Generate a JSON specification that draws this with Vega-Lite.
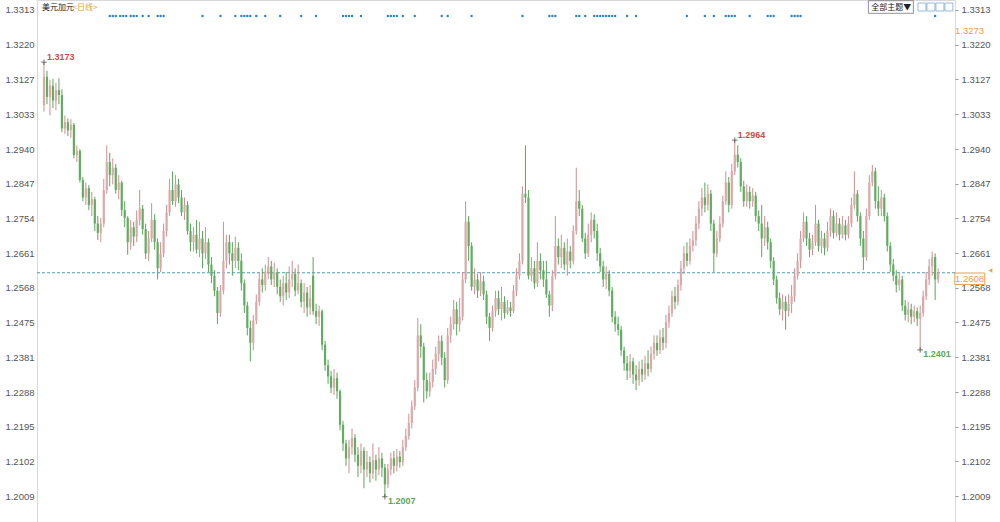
{
  "$schema": "https://vega.github.io/schema/vega-lite/v6.json",
  "width": 918,
  "height": 522,
  "autosize": {"type": "none"},
  "padding": {"left": 37, "right": 45, "top": 0, "bottom": 0},
  "background": "white",
  "config": {"view": {"stroke": "#d8d8d8"}, "font": "Liberation Sans"},
  "data": {"values": [{"one": 1}]},
  "datasets": {
    "k": [
      {"i":0,"o":1.3058,"h":1.3173,"l":1.3040,"c":1.3134},
      {"i":1,"o":1.3134,"h":1.3150,"l":1.3060,"c":1.3080},
      {"i":2,"o":1.3080,"h":1.3125,"l":1.3030,"c":1.3110},
      {"i":3,"o":1.3110,"h":1.3128,"l":1.3050,"c":1.3070},
      {"i":4,"o":1.3070,"h":1.3118,"l":1.3044,"c":1.3098},
      {"i":5,"o":1.3098,"h":1.3130,"l":1.3060,"c":1.3085},
      {"i":6,"o":1.3085,"h":1.3100,"l":1.2985,"c":1.2995},
      {"i":7,"o":1.2995,"h":1.3030,"l":1.2980,"c":1.3012},
      {"i":8,"o":1.3012,"h":1.3022,"l":1.2975,"c":1.2990},
      {"i":9,"o":1.2990,"h":1.3020,"l":1.2970,"c":1.3005},
      {"i":10,"o":1.3005,"h":1.3010,"l":1.2915,"c":1.2924},
      {"i":11,"o":1.2924,"h":1.2950,"l":1.2905,"c":1.2935},
      {"i":12,"o":1.2935,"h":1.2940,"l":1.2850,"c":1.2857},
      {"i":13,"o":1.2857,"h":1.2865,"l":1.2800,"c":1.2810},
      {"i":14,"o":1.2810,"h":1.2850,"l":1.2790,"c":1.2835},
      {"i":15,"o":1.2835,"h":1.2843,"l":1.2776,"c":1.2790},
      {"i":16,"o":1.2790,"h":1.2825,"l":1.2760,"c":1.2805},
      {"i":17,"o":1.2805,"h":1.2812,"l":1.2720,"c":1.2740},
      {"i":18,"o":1.2740,"h":1.2760,"l":1.2696,"c":1.2715},
      {"i":19,"o":1.2715,"h":1.2755,"l":1.2690,"c":1.2740},
      {"i":20,"o":1.2740,"h":1.2860,"l":1.2730,"c":1.2830},
      {"i":21,"o":1.2830,"h":1.2950,"l":1.2820,"c":1.2905},
      {"i":22,"o":1.2905,"h":1.2930,"l":1.2840,"c":1.2870},
      {"i":23,"o":1.2870,"h":1.2915,"l":1.2845,"c":1.2890},
      {"i":24,"o":1.2890,"h":1.2900,"l":1.2820,"c":1.2830},
      {"i":25,"o":1.2830,"h":1.2870,"l":1.2805,"c":1.2850},
      {"i":26,"o":1.2850,"h":1.2855,"l":1.2760,"c":1.2776},
      {"i":27,"o":1.2776,"h":1.2800,"l":1.2730,"c":1.2755},
      {"i":28,"o":1.2755,"h":1.2760,"l":1.2656,"c":1.2690},
      {"i":29,"o":1.2690,"h":1.2750,"l":1.2670,"c":1.2730},
      {"i":30,"o":1.2730,"h":1.2745,"l":1.2680,"c":1.2705},
      {"i":31,"o":1.2705,"h":1.2775,"l":1.2690,"c":1.2750},
      {"i":32,"o":1.2750,"h":1.2830,"l":1.2735,"c":1.2780},
      {"i":33,"o":1.2780,"h":1.2790,"l":1.2710,"c":1.2725},
      {"i":34,"o":1.2725,"h":1.2740,"l":1.2645,"c":1.2660},
      {"i":35,"o":1.2660,"h":1.2720,"l":1.2640,"c":1.2700},
      {"i":36,"o":1.2700,"h":1.2795,"l":1.2690,"c":1.2750},
      {"i":37,"o":1.2750,"h":1.2765,"l":1.2670,"c":1.2690},
      {"i":38,"o":1.2690,"h":1.2700,"l":1.2590,"c":1.2620},
      {"i":39,"o":1.2620,"h":1.2690,"l":1.2610,"c":1.2660},
      {"i":40,"o":1.2660,"h":1.2740,"l":1.2650,"c":1.2720},
      {"i":41,"o":1.2720,"h":1.2790,"l":1.2705,"c":1.2770},
      {"i":42,"o":1.2770,"h":1.2860,"l":1.2760,"c":1.2830},
      {"i":43,"o":1.2830,"h":1.2880,"l":1.2790,"c":1.2800},
      {"i":44,"o":1.2800,"h":1.2870,"l":1.2785,"c":1.2845},
      {"i":45,"o":1.2845,"h":1.2860,"l":1.2795,"c":1.2810},
      {"i":46,"o":1.2810,"h":1.2830,"l":1.2760,"c":1.2770},
      {"i":47,"o":1.2770,"h":1.2810,"l":1.2750,"c":1.2790},
      {"i":48,"o":1.2790,"h":1.2800,"l":1.2710,"c":1.2720},
      {"i":49,"o":1.2720,"h":1.2740,"l":1.2665,"c":1.2690},
      {"i":50,"o":1.2690,"h":1.2730,"l":1.2665,"c":1.2710},
      {"i":51,"o":1.2710,"h":1.2750,"l":1.2660,"c":1.2670},
      {"i":52,"o":1.2670,"h":1.2745,"l":1.2650,"c":1.2700},
      {"i":53,"o":1.2700,"h":1.2720,"l":1.2620,"c":1.2660},
      {"i":54,"o":1.2660,"h":1.2730,"l":1.2645,"c":1.2690},
      {"i":55,"o":1.2690,"h":1.2700,"l":1.2610,"c":1.2630},
      {"i":56,"o":1.2630,"h":1.2650,"l":1.2580,"c":1.2600},
      {"i":57,"o":1.2600,"h":1.2615,"l":1.2545,"c":1.2560},
      {"i":58,"o":1.2560,"h":1.2570,"l":1.2470,"c":1.2500},
      {"i":59,"o":1.2500,"h":1.2575,"l":1.2490,"c":1.2560},
      {"i":60,"o":1.2560,"h":1.2745,"l":1.2550,"c":1.2640},
      {"i":61,"o":1.2640,"h":1.2710,"l":1.2620,"c":1.2690},
      {"i":62,"o":1.2690,"h":1.2710,"l":1.2630,"c":1.2660},
      {"i":63,"o":1.2660,"h":1.2690,"l":1.2600,"c":1.2640},
      {"i":64,"o":1.2640,"h":1.2705,"l":1.2620,"c":1.2675},
      {"i":65,"o":1.2675,"h":1.2690,"l":1.2615,"c":1.2640},
      {"i":66,"o":1.2640,"h":1.2660,"l":1.2560,"c":1.2580},
      {"i":67,"o":1.2580,"h":1.2590,"l":1.2500,"c":1.2520},
      {"i":68,"o":1.2520,"h":1.2530,"l":1.2440,"c":1.2460},
      {"i":69,"o":1.2460,"h":1.2480,"l":1.2370,"c":1.2420},
      {"i":70,"o":1.2420,"h":1.2495,"l":1.2400,"c":1.2480},
      {"i":71,"o":1.2480,"h":1.2550,"l":1.2470,"c":1.2530},
      {"i":72,"o":1.2530,"h":1.2610,"l":1.2520,"c":1.2590},
      {"i":73,"o":1.2590,"h":1.2620,"l":1.2555,"c":1.2575},
      {"i":74,"o":1.2575,"h":1.2630,"l":1.2560,"c":1.2610},
      {"i":75,"o":1.2610,"h":1.2650,"l":1.2590,"c":1.2625},
      {"i":76,"o":1.2625,"h":1.2640,"l":1.2575,"c":1.2590},
      {"i":77,"o":1.2590,"h":1.2635,"l":1.2570,"c":1.2610},
      {"i":78,"o":1.2610,"h":1.2620,"l":1.2550,"c":1.2570},
      {"i":79,"o":1.2570,"h":1.2590,"l":1.2530,"c":1.2545},
      {"i":80,"o":1.2545,"h":1.2600,"l":1.2520,"c":1.2580},
      {"i":81,"o":1.2580,"h":1.2610,"l":1.2535,"c":1.2555},
      {"i":82,"o":1.2555,"h":1.2625,"l":1.2540,"c":1.2590},
      {"i":83,"o":1.2590,"h":1.2640,"l":1.2570,"c":1.2605},
      {"i":84,"o":1.2605,"h":1.2620,"l":1.2545,"c":1.2560},
      {"i":85,"o":1.2560,"h":1.2630,"l":1.2550,"c":1.2580},
      {"i":86,"o":1.2580,"h":1.2590,"l":1.2515,"c":1.2530},
      {"i":87,"o":1.2530,"h":1.2580,"l":1.2500,"c":1.2555},
      {"i":88,"o":1.2555,"h":1.2570,"l":1.2490,"c":1.2515},
      {"i":89,"o":1.2515,"h":1.2575,"l":1.2495,"c":1.2540},
      {"i":90,"o":1.2600,"h":1.2650,"l":1.2495,"c":1.2505},
      {"i":91,"o":1.2505,"h":1.2525,"l":1.2470,"c":1.2490},
      {"i":92,"o":1.2490,"h":1.2520,"l":1.2465,"c":1.2505},
      {"i":93,"o":1.2505,"h":1.2510,"l":1.2400,"c":1.2415},
      {"i":94,"o":1.2415,"h":1.2425,"l":1.2345,"c":1.2360},
      {"i":95,"o":1.2360,"h":1.2375,"l":1.2310,"c":1.2330},
      {"i":96,"o":1.2330,"h":1.2345,"l":1.2285,"c":1.2300},
      {"i":97,"o":1.2300,"h":1.2350,"l":1.2280,"c":1.2325},
      {"i":98,"o":1.2325,"h":1.2340,"l":1.2270,"c":1.2290},
      {"i":99,"o":1.2290,"h":1.2295,"l":1.2185,"c":1.2200},
      {"i":100,"o":1.2200,"h":1.2210,"l":1.2130,"c":1.2150},
      {"i":101,"o":1.2150,"h":1.2160,"l":1.2090,"c":1.2110},
      {"i":102,"o":1.2110,"h":1.2160,"l":1.2070,"c":1.2140},
      {"i":103,"o":1.2140,"h":1.2190,"l":1.2120,"c":1.2165},
      {"i":104,"o":1.2165,"h":1.2175,"l":1.2100,"c":1.2120},
      {"i":105,"o":1.2120,"h":1.2140,"l":1.2060,"c":1.2090},
      {"i":106,"o":1.2090,"h":1.2150,"l":1.2070,"c":1.2130},
      {"i":107,"o":1.2130,"h":1.2140,"l":1.2030,"c":1.2080},
      {"i":108,"o":1.2080,"h":1.2130,"l":1.2060,"c":1.2100},
      {"i":109,"o":1.2100,"h":1.2115,"l":1.2045,"c":1.2070},
      {"i":110,"o":1.2070,"h":1.2150,"l":1.2055,"c":1.2105},
      {"i":111,"o":1.2105,"h":1.2120,"l":1.2050,"c":1.2080},
      {"i":112,"o":1.2080,"h":1.2140,"l":1.2065,"c":1.2110},
      {"i":113,"o":1.2110,"h":1.2125,"l":1.2060,"c":1.2085},
      {"i":114,"o":1.2085,"h":1.2095,"l":1.2007,"c":1.2040},
      {"i":115,"o":1.2040,"h":1.2095,"l":1.2030,"c":1.2080},
      {"i":116,"o":1.2080,"h":1.2125,"l":1.2065,"c":1.2110},
      {"i":117,"o":1.2110,"h":1.2130,"l":1.2070,"c":1.2090},
      {"i":118,"o":1.2090,"h":1.2135,"l":1.2075,"c":1.2115},
      {"i":119,"o":1.2115,"h":1.2130,"l":1.2085,"c":1.2100},
      {"i":120,"o":1.2100,"h":1.2160,"l":1.2090,"c":1.2140},
      {"i":121,"o":1.2140,"h":1.2190,"l":1.2130,"c":1.2170},
      {"i":122,"o":1.2170,"h":1.2230,"l":1.2160,"c":1.2205},
      {"i":123,"o":1.2205,"h":1.2265,"l":1.2190,"c":1.2250},
      {"i":124,"o":1.2250,"h":1.2320,"l":1.2240,"c":1.2300},
      {"i":125,"o":1.2300,"h":1.2487,"l":1.2290,"c":1.2440},
      {"i":126,"o":1.2440,"h":1.2470,"l":1.2380,"c":1.2410},
      {"i":127,"o":1.2410,"h":1.2420,"l":1.2260,"c":1.2320},
      {"i":128,"o":1.2320,"h":1.2340,"l":1.2270,"c":1.2290},
      {"i":129,"o":1.2290,"h":1.2340,"l":1.2275,"c":1.2315},
      {"i":130,"o":1.2315,"h":1.2375,"l":1.2300,"c":1.2350},
      {"i":131,"o":1.2350,"h":1.2410,"l":1.2335,"c":1.2390},
      {"i":132,"o":1.2390,"h":1.2440,"l":1.2370,"c":1.2425},
      {"i":133,"o":1.2425,"h":1.2440,"l":1.2360,"c":1.2380},
      {"i":134,"o":1.2380,"h":1.2395,"l":1.2300,"c":1.2320},
      {"i":135,"o":1.2320,"h":1.2460,"l":1.2310,"c":1.2440},
      {"i":136,"o":1.2440,"h":1.2490,"l":1.2420,"c":1.2470},
      {"i":137,"o":1.2470,"h":1.2535,"l":1.2455,"c":1.2510},
      {"i":138,"o":1.2510,"h":1.2530,"l":1.2440,"c":1.2470},
      {"i":139,"o":1.2470,"h":1.2540,"l":1.2450,"c":1.2490},
      {"i":140,"o":1.2490,"h":1.2610,"l":1.2480,"c":1.2590},
      {"i":141,"o":1.2590,"h":1.2800,"l":1.2580,"c":1.2745},
      {"i":142,"o":1.2745,"h":1.2760,"l":1.2640,"c":1.2680},
      {"i":143,"o":1.2680,"h":1.2690,"l":1.2560,"c":1.2570},
      {"i":144,"o":1.2570,"h":1.2620,"l":1.2550,"c":1.2590},
      {"i":145,"o":1.2590,"h":1.2605,"l":1.2540,"c":1.2560},
      {"i":146,"o":1.2560,"h":1.2610,"l":1.2545,"c":1.2585},
      {"i":147,"o":1.2585,"h":1.2600,"l":1.2535,"c":1.2550},
      {"i":148,"o":1.2550,"h":1.2560,"l":1.2470,"c":1.2490},
      {"i":149,"o":1.2490,"h":1.2500,"l":1.2425,"c":1.2460},
      {"i":150,"o":1.2460,"h":1.2520,"l":1.2450,"c":1.2505},
      {"i":151,"o":1.2505,"h":1.2560,"l":1.2490,"c":1.2540},
      {"i":152,"o":1.2540,"h":1.2560,"l":1.2495,"c":1.2510},
      {"i":153,"o":1.2510,"h":1.2570,"l":1.2480,"c":1.2530},
      {"i":154,"o":1.2530,"h":1.2545,"l":1.2485,"c":1.2500},
      {"i":155,"o":1.2500,"h":1.2535,"l":1.2495,"c":1.2515},
      {"i":156,"o":1.2515,"h":1.2530,"l":1.2490,"c":1.2505},
      {"i":157,"o":1.2505,"h":1.2575,"l":1.2500,"c":1.2560},
      {"i":158,"o":1.2560,"h":1.2620,"l":1.2545,"c":1.2600},
      {"i":159,"o":1.2600,"h":1.2660,"l":1.2590,"c":1.2640},
      {"i":160,"o":1.2640,"h":1.2840,"l":1.2630,"c":1.2820},
      {"i":161,"o":1.2820,"h":1.2950,"l":1.2795,"c":1.2810},
      {"i":162,"o":1.2810,"h":1.2830,"l":1.2590,"c":1.2600},
      {"i":163,"o":1.2600,"h":1.2650,"l":1.2585,"c":1.2620},
      {"i":164,"o":1.2620,"h":1.2640,"l":1.2565,"c":1.2580},
      {"i":165,"o":1.2580,"h":1.2690,"l":1.2570,"c":1.2640},
      {"i":166,"o":1.2640,"h":1.2660,"l":1.2590,"c":1.2615},
      {"i":167,"o":1.2615,"h":1.2640,"l":1.2570,"c":1.2590},
      {"i":168,"o":1.2590,"h":1.2640,"l":1.2540,"c":1.2550},
      {"i":169,"o":1.2550,"h":1.2560,"l":1.2490,"c":1.2520},
      {"i":170,"o":1.2520,"h":1.2615,"l":1.2505,"c":1.2600},
      {"i":171,"o":1.2600,"h":1.2760,"l":1.2590,"c":1.2680},
      {"i":172,"o":1.2680,"h":1.2700,"l":1.2630,"c":1.2650},
      {"i":173,"o":1.2650,"h":1.2710,"l":1.2620,"c":1.2675},
      {"i":174,"o":1.2675,"h":1.2690,"l":1.2615,"c":1.2630},
      {"i":175,"o":1.2630,"h":1.2700,"l":1.2600,"c":1.2665},
      {"i":176,"o":1.2665,"h":1.2680,"l":1.2620,"c":1.2640},
      {"i":177,"o":1.2640,"h":1.2735,"l":1.2630,"c":1.2720},
      {"i":178,"o":1.2720,"h":1.2890,"l":1.2710,"c":1.2800},
      {"i":179,"o":1.2800,"h":1.2830,"l":1.2760,"c":1.2780},
      {"i":180,"o":1.2780,"h":1.2790,"l":1.2690,"c":1.2700},
      {"i":181,"o":1.2700,"h":1.2715,"l":1.2645,"c":1.2660},
      {"i":182,"o":1.2660,"h":1.2740,"l":1.2650,"c":1.2710},
      {"i":183,"o":1.2710,"h":1.2770,"l":1.2690,"c":1.2750},
      {"i":184,"o":1.2750,"h":1.2765,"l":1.2700,"c":1.2720},
      {"i":185,"o":1.2720,"h":1.2740,"l":1.2640,"c":1.2660},
      {"i":186,"o":1.2660,"h":1.2675,"l":1.2610,"c":1.2625},
      {"i":187,"o":1.2625,"h":1.2640,"l":1.2570,"c":1.2590},
      {"i":188,"o":1.2590,"h":1.2625,"l":1.2565,"c":1.2605},
      {"i":189,"o":1.2605,"h":1.2615,"l":1.2545,"c":1.2560},
      {"i":190,"o":1.2560,"h":1.2570,"l":1.2475,"c":1.2490},
      {"i":191,"o":1.2490,"h":1.2505,"l":1.2450,"c":1.2470},
      {"i":192,"o":1.2470,"h":1.2490,"l":1.2440,"c":1.2455},
      {"i":193,"o":1.2455,"h":1.2465,"l":1.2385,"c":1.2400},
      {"i":194,"o":1.2400,"h":1.2410,"l":1.2345,"c":1.2365},
      {"i":195,"o":1.2365,"h":1.2385,"l":1.2320,"c":1.2345},
      {"i":196,"o":1.2345,"h":1.2390,"l":1.2325,"c":1.2370},
      {"i":197,"o":1.2370,"h":1.2380,"l":1.2310,"c":1.2335},
      {"i":198,"o":1.2335,"h":1.2360,"l":1.2293,"c":1.2320},
      {"i":199,"o":1.2320,"h":1.2370,"l":1.2305,"c":1.2350},
      {"i":200,"o":1.2350,"h":1.2375,"l":1.2315,"c":1.2335},
      {"i":201,"o":1.2335,"h":1.2385,"l":1.2320,"c":1.2365},
      {"i":202,"o":1.2365,"h":1.2400,"l":1.2330,"c":1.2350},
      {"i":203,"o":1.2350,"h":1.2410,"l":1.2340,"c":1.2390},
      {"i":204,"o":1.2390,"h":1.2440,"l":1.2375,"c":1.2420},
      {"i":205,"o":1.2420,"h":1.2440,"l":1.2385,"c":1.2400},
      {"i":206,"o":1.2400,"h":1.2455,"l":1.2390,"c":1.2435},
      {"i":207,"o":1.2435,"h":1.2460,"l":1.2400,"c":1.2420},
      {"i":208,"o":1.2420,"h":1.2495,"l":1.2405,"c":1.2475},
      {"i":209,"o":1.2475,"h":1.2520,"l":1.2460,"c":1.2500},
      {"i":210,"o":1.2500,"h":1.2560,"l":1.2490,"c":1.2545},
      {"i":211,"o":1.2545,"h":1.2570,"l":1.2510,"c":1.2530},
      {"i":212,"o":1.2530,"h":1.2590,"l":1.2520,"c":1.2575},
      {"i":213,"o":1.2575,"h":1.2640,"l":1.2560,"c":1.2620},
      {"i":214,"o":1.2620,"h":1.2680,"l":1.2605,"c":1.2660},
      {"i":215,"o":1.2660,"h":1.2690,"l":1.2625,"c":1.2640},
      {"i":216,"o":1.2640,"h":1.2700,"l":1.2630,"c":1.2680},
      {"i":217,"o":1.2680,"h":1.2720,"l":1.2665,"c":1.2695},
      {"i":218,"o":1.2695,"h":1.2760,"l":1.2680,"c":1.2740},
      {"i":219,"o":1.2740,"h":1.2800,"l":1.2725,"c":1.2780},
      {"i":220,"o":1.2780,"h":1.2835,"l":1.2760,"c":1.2810},
      {"i":221,"o":1.2810,"h":1.2850,"l":1.2770,"c":1.2790},
      {"i":222,"o":1.2790,"h":1.2845,"l":1.2775,"c":1.2820},
      {"i":223,"o":1.2820,"h":1.2830,"l":1.2720,"c":1.2740},
      {"i":224,"o":1.2740,"h":1.2750,"l":1.2610,"c":1.2660},
      {"i":225,"o":1.2660,"h":1.2720,"l":1.2650,"c":1.2700},
      {"i":226,"o":1.2700,"h":1.2760,"l":1.2690,"c":1.2740},
      {"i":227,"o":1.2740,"h":1.2815,"l":1.2730,"c":1.2800},
      {"i":228,"o":1.2800,"h":1.2880,"l":1.2790,"c":1.2850},
      {"i":229,"o":1.2850,"h":1.2865,"l":1.2770,"c":1.2790},
      {"i":230,"o":1.2790,"h":1.2900,"l":1.2780,"c":1.2880},
      {"i":231,"o":1.2880,"h":1.2964,"l":1.2870,"c":1.2925},
      {"i":232,"o":1.2925,"h":1.2950,"l":1.2890,"c":1.2905},
      {"i":233,"o":1.2905,"h":1.2915,"l":1.2825,"c":1.2840},
      {"i":234,"o":1.2840,"h":1.2855,"l":1.2785,"c":1.2800},
      {"i":235,"o":1.2800,"h":1.2845,"l":1.2785,"c":1.2825},
      {"i":236,"o":1.2825,"h":1.2840,"l":1.2780,"c":1.2800},
      {"i":237,"o":1.2800,"h":1.2835,"l":1.2785,"c":1.2815},
      {"i":238,"o":1.2815,"h":1.2825,"l":1.2745,"c":1.2760},
      {"i":239,"o":1.2760,"h":1.2775,"l":1.2720,"c":1.2740},
      {"i":240,"o":1.2740,"h":1.2790,"l":1.2650,"c":1.2700},
      {"i":241,"o":1.2700,"h":1.2760,"l":1.2680,"c":1.2730},
      {"i":242,"o":1.2730,"h":1.2745,"l":1.2670,"c":1.2690},
      {"i":243,"o":1.2690,"h":1.2700,"l":1.2620,"c":1.2640},
      {"i":244,"o":1.2640,"h":1.2650,"l":1.2575,"c":1.2590},
      {"i":245,"o":1.2590,"h":1.2600,"l":1.2525,"c":1.2540},
      {"i":246,"o":1.2540,"h":1.2555,"l":1.2495,"c":1.2510},
      {"i":247,"o":1.2510,"h":1.2550,"l":1.2480,"c":1.2530},
      {"i":248,"o":1.2530,"h":1.2545,"l":1.2455,"c":1.2505},
      {"i":249,"o":1.2505,"h":1.2550,"l":1.2490,"c":1.2525},
      {"i":250,"o":1.2525,"h":1.2575,"l":1.2500,"c":1.2545},
      {"i":251,"o":1.2545,"h":1.2620,"l":1.2530,"c":1.2600},
      {"i":252,"o":1.2600,"h":1.2660,"l":1.2590,"c":1.2640},
      {"i":253,"o":1.2640,"h":1.2720,"l":1.2620,"c":1.2700},
      {"i":254,"o":1.2700,"h":1.2770,"l":1.2690,"c":1.2745},
      {"i":255,"o":1.2745,"h":1.2760,"l":1.2680,"c":1.2700},
      {"i":256,"o":1.2700,"h":1.2715,"l":1.2650,"c":1.2670},
      {"i":257,"o":1.2670,"h":1.2710,"l":1.2655,"c":1.2690},
      {"i":258,"o":1.2690,"h":1.2790,"l":1.2680,"c":1.2740},
      {"i":259,"o":1.2740,"h":1.2750,"l":1.2665,"c":1.2680},
      {"i":260,"o":1.2680,"h":1.2720,"l":1.2660,"c":1.2700},
      {"i":261,"o":1.2700,"h":1.2715,"l":1.2655,"c":1.2675},
      {"i":262,"o":1.2675,"h":1.2745,"l":1.2665,"c":1.2720},
      {"i":263,"o":1.2720,"h":1.2780,"l":1.2705,"c":1.2760},
      {"i":264,"o":1.2760,"h":1.2775,"l":1.2700,"c":1.2715},
      {"i":265,"o":1.2715,"h":1.2770,"l":1.2705,"c":1.2740},
      {"i":266,"o":1.2740,"h":1.2755,"l":1.2695,"c":1.2710},
      {"i":267,"o":1.2710,"h":1.2760,"l":1.2700,"c":1.2735},
      {"i":268,"o":1.2735,"h":1.2750,"l":1.2695,"c":1.2710},
      {"i":269,"o":1.2710,"h":1.2760,"l":1.2700,"c":1.2740},
      {"i":270,"o":1.2740,"h":1.2810,"l":1.2730,"c":1.2790},
      {"i":271,"o":1.2790,"h":1.2880,"l":1.2780,"c":1.2820},
      {"i":272,"o":1.2820,"h":1.2830,"l":1.2745,"c":1.2760},
      {"i":273,"o":1.2760,"h":1.2770,"l":1.2680,"c":1.2700},
      {"i":274,"o":1.2700,"h":1.2720,"l":1.2615,"c":1.2650},
      {"i":275,"o":1.2650,"h":1.2780,"l":1.2640,"c":1.2760},
      {"i":276,"o":1.2760,"h":1.2870,"l":1.2750,"c":1.2850},
      {"i":277,"o":1.2850,"h":1.2897,"l":1.2840,"c":1.2880},
      {"i":278,"o":1.2880,"h":1.2890,"l":1.2780,"c":1.2800},
      {"i":279,"o":1.2800,"h":1.2840,"l":1.2760,"c":1.2780},
      {"i":280,"o":1.2780,"h":1.2830,"l":1.2760,"c":1.2810},
      {"i":281,"o":1.2810,"h":1.2820,"l":1.2745,"c":1.2760},
      {"i":282,"o":1.2760,"h":1.2770,"l":1.2665,"c":1.2680},
      {"i":283,"o":1.2680,"h":1.2690,"l":1.2610,"c":1.2630},
      {"i":284,"o":1.2630,"h":1.2645,"l":1.2585,"c":1.2600},
      {"i":285,"o":1.2600,"h":1.2615,"l":1.2555,"c":1.2575},
      {"i":286,"o":1.2575,"h":1.2610,"l":1.2560,"c":1.2590},
      {"i":287,"o":1.2590,"h":1.2600,"l":1.2505,"c":1.2520},
      {"i":288,"o":1.2520,"h":1.2535,"l":1.2480,"c":1.2495},
      {"i":289,"o":1.2495,"h":1.2530,"l":1.2475,"c":1.2510},
      {"i":290,"o":1.2510,"h":1.2525,"l":1.2470,"c":1.2490},
      {"i":291,"o":1.2490,"h":1.2520,"l":1.2475,"c":1.2505},
      {"i":292,"o":1.2505,"h":1.2515,"l":1.2465,"c":1.2485},
      {"i":293,"o":1.2485,"h":1.2520,"l":1.2401,"c":1.2500},
      {"i":294,"o":1.2500,"h":1.2560,"l":1.2490,"c":1.2545},
      {"i":295,"o":1.2545,"h":1.2610,"l":1.2535,"c":1.2590},
      {"i":296,"o":1.2590,"h":1.2645,"l":1.2575,"c":1.2625},
      {"i":297,"o":1.2625,"h":1.2665,"l":1.2600,"c":1.2650},
      {"i":298,"o":1.2650,"h":1.2660,"l":1.2535,"c":1.2590},
      {"i":299,"o":1.2590,"h":1.2620,"l":1.2580,"c":1.2608}
    ],
    "ev": [
      {"i":22},{"i":23},{"i":24},{"i":25.5},{"i":26.5},{"i":27.5},{"i":29},{"i":30},{"i":31},{"i":33},{"i":35},{"i":38},{"i":39},{"i":40},
      {"i":53},{"i":59},{"i":64},{"i":66},{"i":67},{"i":68},{"i":69},{"i":71},{"i":74},{"i":79},{"i":86},{"i":91},
      {"i":100},{"i":101},{"i":102},{"i":103},{"i":106},{"i":115},{"i":116},{"i":117},{"i":118},{"i":120},{"i":124},{"i":133},{"i":135},{"i":143},
      {"i":160},{"i":169},{"i":170},{"i":171},{"i":178},{"i":179},{"i":181},{"i":184},{"i":185},{"i":186},{"i":187},{"i":188},{"i":189},{"i":190},{"i":191},{"i":195},{"i":198},
      {"i":215},{"i":221},{"i":224},{"i":228},{"i":229},{"i":230},{"i":231},{"i":236},{"i":242},{"i":243},{"i":244},{"i":250},{"i":251},{"i":252},{"i":253},{"i":298}
    ],
    "hi": [
      {"i":0,"p":1.3173,"t":"1.3173"},
      {"i":231,"p":1.2964,"t":"1.2964"}
    ],
    "lo": [
      {"i":114,"p":1.2007,"t":"1.2007"},
      {"i":293,"p":1.2401,"t":"1.2401"}
    ]
  },
  "layer": [
    {
      "mark": {"type": "rule", "color": "#4a9fb5", "strokeDash": [3, 2], "strokeWidth": 1},
      "encoding": {
        "y": {"datum": 1.2608, "type": "quantitative", "scale": {"domain": [1.19393, 1.33398], "nice": false, "zero": false}, "axis": null}
      }
    },
    {
      "data": {"name": "k"},
      "mark": {"type": "rule", "strokeWidth": 1},
      "encoding": {
        "x": {"field": "i", "type": "quantitative", "scale": {"domain": [-0.66, 302.97], "nice": false, "zero": false}, "axis": null},
        "y": {"field": "l", "type": "quantitative", "axis": {"orient": "left", "values": [1.2009,1.2102,1.2195,1.2288,1.2381,1.2475,1.2568,1.2661,1.2754,1.2847,1.2940,1.3033,1.3127,1.3220,1.3313], "format": ".4f", "grid": false, "domain": false, "ticks": false, "labelPadding": 3, "labelColor": "#555", "labelFontSize": 9.5, "labelFont": "Liberation Sans", "title": null}},
        "y2": {"field": "h"},
        "color": {"condition": {"test": "datum.c >= datum.o", "value": "#cf8e8e"}, "value": "#5aa65a"}
      }
    },
    {
      "data": {"name": "k"},
      "mark": {"type": "bar", "size": 2.2},
      "encoding": {
        "x": {"field": "i", "type": "quantitative", "axis": null},
        "y": {"field": "o", "type": "quantitative", "axis": {"orient": "right", "values": [1.2009,1.2102,1.2195,1.2288,1.2381,1.2475,1.2568,1.2661,1.2754,1.2847,1.2940,1.3033,1.3127,1.3220,1.3313], "format": ".4f", "grid": false, "domain": false, "ticks": true, "tickSize": 3, "tickColor": "#999", "labelPadding": 3, "labelColor": "#555", "labelFontSize": 9.5, "labelFont": "Liberation Sans", "title": null}},
        "y2": {"field": "c"},
        "color": {"condition": {"test": "datum.c >= datum.o", "value": "#dba9a9"}, "value": "#62ad62"}
      }
    },
    {
      "data": {"name": "ev"},
      "mark": {"type": "point", "filled": true, "size": 6, "color": "#2a86c0", "opacity": 1},
      "encoding": {
        "x": {"field": "i", "type": "quantitative", "axis": null},
        "y": {"datum": 1.3297, "axis": null}
      }
    },
    {
      "data": {"name": "hi"},
      "mark": {"type": "point", "shape": "M-1,0H1M0,-1V1", "strokeWidth": 1, "color": "#333", "filled": false, "size": 30},
      "encoding": {"x": {"field": "i", "type": "quantitative", "axis": null}, "y": {"field": "p", "type": "quantitative", "axis": null}}
    },
    {
      "data": {"name": "hi"},
      "mark": {"type": "text", "align": "left", "baseline": "bottom", "dx": 3, "dy": 0, "fontSize": 9, "fontWeight": "bold", "color": "#cc4b4b", "font": "Liberation Sans"},
      "encoding": {"x": {"field": "i", "type": "quantitative", "axis": null}, "y": {"field": "p", "type": "quantitative", "axis": null}, "text": {"field": "t"}}
    },
    {
      "data": {"name": "lo"},
      "mark": {"type": "point", "shape": "M-1,0H1M0,-1V1", "strokeWidth": 1, "color": "#333", "filled": false, "size": 30},
      "encoding": {"x": {"field": "i", "type": "quantitative", "axis": null}, "y": {"field": "p", "type": "quantitative", "axis": null}}
    },
    {
      "data": {"name": "lo"},
      "mark": {"type": "text", "align": "left", "baseline": "top", "dx": 3, "dy": 0, "fontSize": 9, "fontWeight": "bold", "color": "#5aa65a", "font": "Liberation Sans"},
      "encoding": {"x": {"field": "i", "type": "quantitative", "axis": null}, "y": {"field": "p", "type": "quantitative", "axis": null}, "text": {"field": "t"}}
    },
    {
      "mark": {"type": "text", "align": "left", "baseline": "middle", "fontSize": 8, "color": "#222", "font": "Noto Sans CJK SC"},
      "encoding": {"x": {"datum": -0.66, "axis": null}, "y": {"datum": 1.3319, "axis": null}, "text": {"value": "美元加元"}}
    },
    {
      "mark": {"type": "text", "align": "left", "baseline": "middle", "fontSize": 8, "color": "#e0a040", "font": "Noto Sans CJK SC"},
      "encoding": {"x": {"datum": 9.6, "axis": null}, "y": {"datum": 1.3319, "axis": null}, "text": {"value": "<日线>"}}
    },
    {
      "mark": {"type": "point", "shape": "M-1,-0.28H1V0.28H-1Z", "size": 2025, "filled": false, "stroke": "#666", "strokeWidth": 1},
      "encoding": {"x": {"datum": 283.2, "axis": null}, "y": {"datum": 1.3321, "axis": null}}
    },
    {
      "mark": {"type": "text", "align": "left", "baseline": "middle", "fontSize": 8, "color": "#222", "font": "Noto Sans CJK SC"},
      "encoding": {"x": {"datum": 276.6, "axis": null}, "y": {"datum": 1.3319, "axis": null}, "text": {"value": "全部主题▼"}}
    },
    {
      "data": {"values": [{"i": 293.6}, {"i": 296.6}, {"i": 299.6}, {"i": 302.6}]},
      "mark": {"type": "point", "shape": "square", "size": 64, "filled": false, "stroke": "#6a9fd0", "strokeWidth": 1},
      "encoding": {"x": {"field": "i", "type": "quantitative", "axis": null}, "y": {"datum": 1.3321, "axis": null}}
    },
    {
      "mark": {"type": "text", "align": "left", "baseline": "middle", "fontSize": 9.5, "color": "#e8a040", "font": "Liberation Sans", "dx": 5, "dy": 6},
      "encoding": {"x": {"datum": 302.97, "axis": null}, "y": {"datum": 1.3273, "axis": null}, "text": {"value": "1.3273"}}
    },
    {
      "mark": {"type": "point", "shape": "M-1,-0.38H1V0.38H-1Z", "size": 900, "filled": true, "fill": "white", "stroke": "#e8a040", "strokeWidth": 1, "opacity": 1},
      "encoding": {"x": {"datum": 309.6, "axis": null}, "y": {"datum": 1.2592, "axis": null}}
    },
    {
      "mark": {"type": "text", "align": "left", "baseline": "middle", "fontSize": 9.5, "color": "#e8a040", "font": "Liberation Sans", "dx": 5, "dy": 6},
      "encoding": {"x": {"datum": 302.97, "axis": null}, "y": {"datum": 1.2608, "axis": null}, "text": {"value": "1.2608"}}
    },
    {
      "mark": {"type": "point", "shape": "triangle-left", "size": 20, "filled": true, "color": "#e8a040", "opacity": 1},
      "encoding": {"x": {"datum": 316.5, "axis": null}, "y": {"datum": 1.2614, "axis": null}}
    }
  ],
  "resolve": {"axis": {"y": "independent"}}
}
